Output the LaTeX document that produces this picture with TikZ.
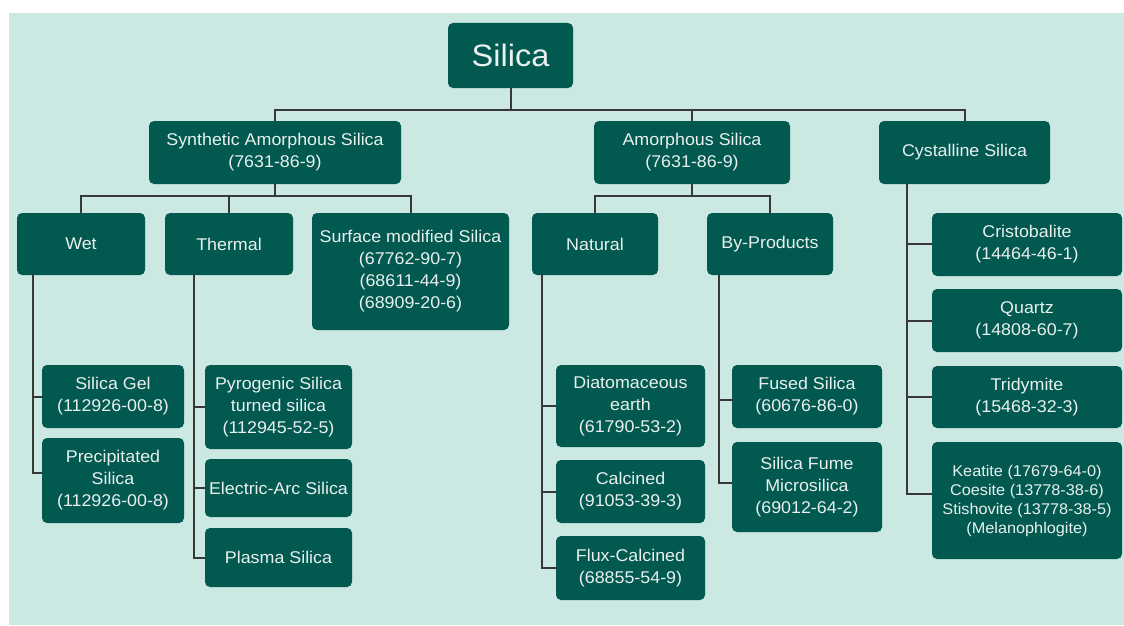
\documentclass[tikz,border=0pt]{standalone}
\usepackage{fontspec}
\setmainfont[FakeStretch=1.05]{Liberation Sans}
\usepackage{xcolor}

\definecolor{bgmint}{RGB}{203,232,227}
\definecolor{boxteal}{RGB}{2,89,80}
\definecolor{boxtext}{RGB}{233,240,238}
\definecolor{linkgray}{RGB}{55,55,55}

\tikzset{
  box/.style={fill=boxteal, rounded corners=5pt, text=boxtext, align=center,
    inner sep=0pt, font=\fontsize{17}{22}\selectfont},
  link/.style={draw=linkgray, line width=2pt},
}

\begin{document}
\begin{tikzpicture}[x=1pt,y=-1pt]
  % Page and the mint background
  \useasboundingbox (0,0) rectangle (1124,626);
  \fill[white] (0,0) rectangle (1124,626);
  \fill[bgmint] (9,13) rectangle (1124,625);

  % Root and first level
  \node[box, minimum width=125, minimum height=65, font=\fontsize{31}{36}\selectfont] (silica) at (510.5,55.5) {Silica};
  \node[box, minimum width=252, minimum height=63] (synth) at (275,152.5) {Synthetic Amorphous Silica\\(7631-86-9)};
  \node[box, minimum width=196, minimum height=63] (amorph) at (692,152.5) {Amorphous Silica\\(7631-86-9)};
  \node[box, minimum width=171, minimum height=63] (cryst) at (964.5,152.5) {Cystalline Silica};

  % Second level
  \node[box, minimum width=128, minimum height=62] (wet) at (81,244) {Wet};
  \node[box, minimum width=128, minimum height=62] (thermal) at (229,244) {Thermal};
  \node[box, minimum width=197, minimum height=117] (surface) at (410.5,271.5) {Surface modified Silica\\(67762-90-7)\\(68611-44-9)\\(68909-20-6)};
  \node[box, minimum width=126, minimum height=62] (natural) at (595,244) {Natural};
  \node[box, minimum width=126, minimum height=62] (byprod) at (770,244) {By-Products};

  % Wet and thermal leaves
  \node[box, minimum width=142, minimum height=63] (gel) at (113,396.5) {Silica Gel\\(112926-00-8)};
  \node[box, minimum width=142, minimum height=85] (precip) at (113,480.5) {Precipitated\\Silica\\(112926-00-8)};
  \node[box, minimum width=147, minimum height=84] (pyro) at (278.5,407) {Pyrogenic Silica\\turned silica\\(112945-52-5)};
  \node[box, minimum width=147, minimum height=58] (arc) at (278.5,488) {Electric-Arc Silica};
  \node[box, minimum width=147, minimum height=59] (plasma) at (278.5,557.5) {Plasma Silica};

  % Natural and by-product leaves
  \node[box, minimum width=149, minimum height=82] (diatom) at (630.5,406) {Diatomaceous\\earth\\(61790-53-2)};
  \node[box, minimum width=149, minimum height=63] (calc) at (630.5,491.5) {Calcined\\(91053-39-3)};
  \node[box, minimum width=149, minimum height=64] (flux) at (630.5,568) {Flux-Calcined\\(68855-54-9)};
  \node[box, minimum width=150, minimum height=63] (fused) at (807,396.5) {Fused Silica\\(60676-86-0)};
  \node[box, minimum width=150, minimum height=90] (fume) at (807,487) {Silica Fume\\Microsilica\\(69012-64-2)};

  % Crystalline leaves
  \node[box, minimum width=190, minimum height=63] (cristo) at (1027,244.5) {Cristobalite\\(14464-46-1)};
  \node[box, minimum width=190, minimum height=63] (quartz) at (1027,320.5) {Quartz\\(14808-60-7)};
  \node[box, minimum width=190, minimum height=62] (tridy) at (1027,397) {Tridymite\\(15468-32-3)};
  \node[box, minimum width=190, minimum height=117, font=\fontsize{15.5}{19}\selectfont] (keat) at (1027,500.5) {Keatite (17679-64-0)\\Coesite (13778-38-6)\\Stishovite (13778-38-5)\\(Melanophlogite)};

  % Buses under the upper boxes
  \coordinate (bus0) at (510.5,110);
  \coordinate (bus1) at (275,196);
  \coordinate (bus2) at (692,196);
  \draw[link] (silica) -- (bus0);
  \draw[link] (bus0) -| (synth.north);
  \draw[link] (bus0) -| (amorph.north);
  \draw[link] (bus0) -| (cryst.north);
  \draw[link] (synth) -- (bus1);
  \draw[link] (bus1) -| (wet.north);
  \draw[link] (bus1) -| (thermal.north);
  \draw[link] (bus1) -| (surface.north);
  \draw[link] (amorph) -- (bus2);
  \draw[link] (bus2) -| (natural.north);
  \draw[link] (bus2) -| (byprod.north);

  % Side spines down to the leaves
  \coordinate (wetspine) at (33,275);
  \coordinate (thermspine) at (194,275);
  \coordinate (natspine) at (542,275);
  \coordinate (byspine) at (719,275);
  \coordinate (cryspine) at (907,184);
  \draw[link] (wetspine) |- (gel.west);
  \draw[link] (wetspine) |- ([yshift=8pt]precip.west);
  \draw[link] (thermspine) |- (pyro.west);
  \draw[link] (thermspine) |- (arc.west);
  \draw[link] (thermspine) |- (plasma.west);
  \draw[link] (natspine) |- (diatom.west);
  \draw[link] (natspine) |- (calc.west);
  \draw[link] (natspine) |- (flux.west);
  \draw[link] (byspine) |- ([yshift=-3pt]fused.west);
  \draw[link] (byspine) |- ([yshift=4pt]fume.west);
  \draw[link] (cryspine) |- ([yshift=1pt]cristo.west);
  \draw[link] (cryspine) |- (quartz.west);
  \draw[link] (cryspine) |- (tridy.west);
  \draw[link] (cryspine) |- ([yshift=7pt]keat.west);
\end{tikzpicture}
\end{document}
